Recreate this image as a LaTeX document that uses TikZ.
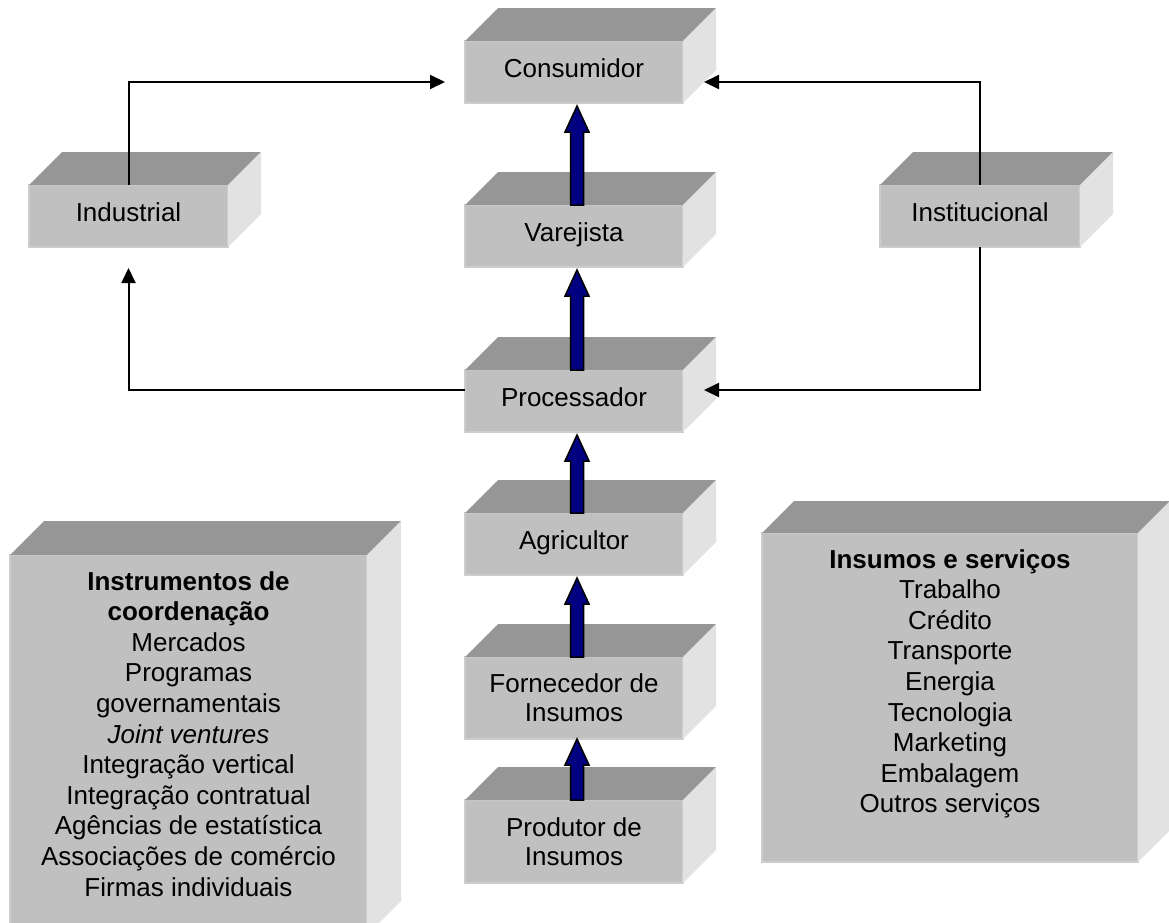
\documentclass[tikz,border=0pt]{standalone}
\usepackage{fontspec}
\setmainfont{Liberation Sans}
\usetikzlibrary{arrows.meta,calc}

\definecolor{frontgray}{HTML}{C0C0C0}
\definecolor{edgegray}{HTML}{CDCDCD}
\definecolor{topgray}{HTML}{969696}
\definecolor{sidegray}{HTML}{E2E2E2}
\definecolor{flowblue}{HTML}{000080}

\tikzset{
  front/.style={rectangle, fill=frontgray, draw=edgegray, line width=1.5pt,
    outer sep=0pt, inner sep=0pt, align=center,
    font=\fontsize{26}{29}\selectfont},
  single/.style={text height=19pt, text depth=8pt},
  listtext/.style={anchor=north, inner sep=0pt, align=center,
    font=\fontsize{26}{30.6}\selectfont},
  conn/.style={draw=black, line width=2pt,
    -{Triangle[length=15pt,width=14pt]}},
  flow/.style={draw=black, line width=1.5pt, fill=flowblue, line join=miter,
    to path={let \p1=(\tikztostart), \p2=(\tikztotarget) in
      (\x1-6.5pt,\y1) -- (\x1-6.5pt,\y2-26pt) -- (\x1-12pt,\y2-26pt)
      -- (\x1,\y2) -- (\x1+12pt,\y2-26pt) -- (\x1+6.5pt,\y2-26pt)
      -- (\x1+6.5pt,\y1) -- cycle}},
}

\begin{document}
\begin{tikzpicture}[x=1pt,y=-1pt]
  \useasboundingbox (0,0) rectangle (1169,922);

  % front faces of the chain
  \node[front,single,minimum width=218pt,minimum height=62pt] (cons) at (574,72) {Consumidor};
  \node[front,single,minimum width=218pt,minimum height=62pt] (vare) at (574,236) {Varejista};
  \node[front,single,minimum width=218pt,minimum height=62pt] (proc) at (574,401) {Processador};
  \node[front,single,minimum width=218pt,minimum height=62pt] (agri) at (574,544) {Agricultor};
  \node[front,minimum width=218pt,minimum height=82pt] (forn) at (574,698) {Fornecedor de\\Insumos};
  \node[front,minimum width=218pt,minimum height=83pt] (prod) at (574,841.5) {Produtor de\\Insumos};
  % side markets
  \node[front,single,minimum width=199pt,minimum height=62pt] (ind) at (128.5,216) {Industrial};
  \node[front,single,minimum width=200pt,minimum height=62pt] (inst) at (980,216) {Institucional};
  % large panels
  \node[front,minimum width=357pt,minimum height=380pt] (coord) at (188.5,745) {};
  \node[front,minimum width=376pt,minimum height=329pt] (ins) at (950,697.5) {};

  % top and side faces giving each box its depth
  \foreach \n/\d in {cons/33,vare/33,proc/33,agri/33,forn/33,prod/33,ind/33,inst/33,coord/34,ins/32}{
    \fill[topgray] (\n.north west) -- ++(\d,-\d) -- ($(\n.north east)+(\d,-\d)$) -- (\n.north east) -- cycle;
    \fill[sidegray] (\n.north east) -- ++(\d,-\d) -- ($(\n.south east)+(\d,-\d)$) -- (\n.south east) -- cycle;
  }

  % panel texts
  \node[listtext] (coordtext) at (188.5,571) {\textbf{Instrumentos de}\\\textbf{coordenação}\\Mercados\\Programas\\governamentais\\\textit{Joint ventures}\\Integração vertical\\Integração contratual\\Agências de estatística\\Associações de comércio\\Firmas individuais};
  \node[listtext] (instext) at (950,549) {\textbf{Insumos e serviços}\\Trabalho\\Crédito\\Transporte\\Energia\\Tecnologia\\Marketing\\Embalagem\\Outros serviços};

  % product flow up the chain
  \draw[flow] ([xshift=3pt]prod.north) to ([xshift=3pt]forn.south);
  \draw[flow] ([xshift=3pt]forn.north) to ([xshift=3pt,yshift=-3pt]agri.south);
  \draw[flow] ([xshift=3pt]agri.north) to ([xshift=3pt,yshift=-3pt]proc.south);
  \draw[flow] ([xshift=3pt]proc.north) to ([xshift=3pt,yshift=-3pt]vare.south);
  \draw[flow] ([xshift=3pt]vare.north) to ([xshift=3pt,yshift=-3pt]cons.south);

  % distribution through the side markets
  \draw[conn] (ind.north) |- ([xshift=-20pt,yshift=-10pt]cons.west);
  \draw[conn] (inst.north) |- ([xshift=21pt,yshift=-10pt]cons.east);
  \draw[conn,shorten >=21pt] ([yshift=11pt]proc.west) -| (ind.south);
  \draw[conn] (inst.south) |- ([xshift=21pt,yshift=11pt]proc.east);
\end{tikzpicture}
\end{document}
